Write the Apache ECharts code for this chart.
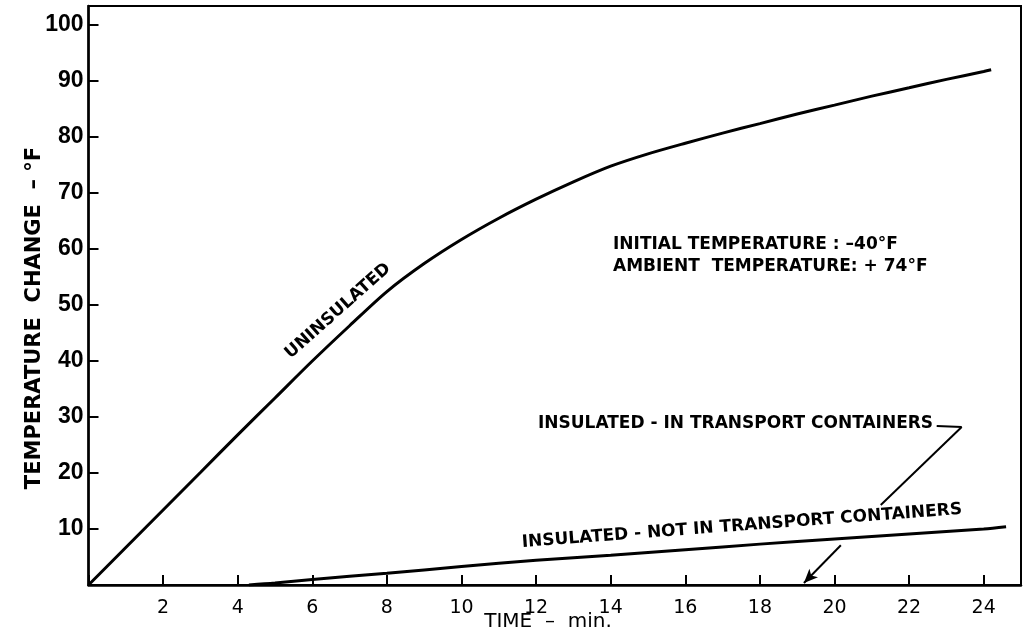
<!DOCTYPE html>
<html>
<head>
<meta charset="utf-8">
<script src="https://cdn.jsdelivr.net/npm/echarts@6/dist/echarts.min.js"></script>
<style>
html,body{margin:0;padding:0;background:#fff;}
#chart{width:1026px;height:642px;}
</style>
</head>
<body>
<div id="chart"></div>
<script>
// ---- data (time in minutes, temperature change in °F) ----
var uninsulatedTime = [0, 1, 2, 3, 4, 5, 6, 7, 8, 9, 10, 11, 12, 13, 14, 15, 16, 17, 18, 19, 20, 21, 22, 23, 24, 24.2];
var uninsulatedTemp = [0, 6.7, 13.4, 20.1, 26.8, 33.4, 40.0, 46.3, 52.4, 57.4, 61.7, 65.5, 68.9, 72.0, 74.8, 77.0, 78.9, 80.7, 82.4, 84.1, 85.7, 87.3, 88.8, 90.3, 91.7, 92.0];
var insulatedNotTime = [4.3, 5, 6, 8, 10, 12, 14, 16, 18, 20, 22, 24, 24.6];
var insulatedNotTemp = [0, 0.35, 1.0, 2.1, 3.3, 4.4, 5.3, 6.3, 7.3, 8.2, 9.1, 10.0, 10.4];
var xTicks = [2, 4, 6, 8, 10, 12, 14, 16, 18, 20, 22, 24];
var yTicks = [10, 20, 30, 40, 50, 60, 70, 80, 90, 100];
// leader line for "INSULATED - IN TRANSPORT CONTAINERS" (data units)
var leaderHook = [[22.74, 28.4], [23.41, 28.2]];
var leaderUpper = [[23.41, 28.2], [21.24, 14.3]];
var leaderLower = [[20.17, 7.1], [19.18, 0.36]];

function zip(a, b) { return a.map(function (v, i) { return [v, b[i]]; }); }

var chart = echarts.init(document.getElementById('chart'));
var textBold = { fontFamily: 'DejaVu Sans', fontWeight: 'bold', fill: '#000' };

var option = {
  backgroundColor: '#fff',
  animation: false,
  grid: { left: 88.5, right: 5, top: 6, bottom: 57, show: true, borderColor: '#000', borderWidth: 2 },
  xAxis: {
    type: 'value', min: 0, max: 25, interval: 2,
    axisLine: { show: true, lineStyle: { color: '#000', width: 2.5 } },
    axisTick: { show: true, inside: true, length: 10, lineStyle: { color: '#000', width: 2 } },
    splitLine: { show: false },
    axisLabel: {
      margin: 14, color: '#000', fontFamily: 'DejaVu Sans', fontSize: 19,
      formatter: function (v) { return xTicks.indexOf(v) >= 0 ? String(v) : ''; }
    }
  },
  yAxis: {
    type: 'value', min: 0, max: 103.4, interval: 10,
    axisLine: { show: true, lineStyle: { color: '#000', width: 2.5 } },
    axisTick: { show: true, inside: true, length: 10, lineStyle: { color: '#000', width: 2 } },
    splitLine: { show: false },
    axisLabel: {
      margin: 5, color: '#000', fontFamily: 'Liberation Sans', fontWeight: 'bold', fontSize: 23,
      formatter: function (v) { return yTicks.indexOf(v) >= 0 ? String(v) : ''; }
    }
  },
  series: [
    {
      name: 'Uninsulated', type: 'line', data: zip(uninsulatedTime, uninsulatedTemp),
      showSymbol: false, smooth: 0.3, lineStyle: { color: '#000', width: 3 }
    },
    {
      name: 'Insulated - not in transport containers', type: 'line', data: zip(insulatedNotTime, insulatedNotTemp),
      showSymbol: false, smooth: 0.3, lineStyle: { color: '#000', width: 3 },
      markLine: {
        silent: true, symbol: ['none', 'none'], label: { show: false },
        lineStyle: { color: '#000', width: 2, type: 'solid' },
        data: [
          [{ coord: leaderHook[0] }, { coord: leaderHook[1] }],
          [{ coord: leaderUpper[0] }, { coord: leaderUpper[1] }],
          [{ coord: leaderLower[0] }, { coord: leaderLower[1], symbol: 'arrow', symbolSize: [9, 14] }]
        ]
      }
    }
  ],
  graphic: [
    { type: 'text', x: 35, y: 318, rotation: Math.PI / 2,
      style: Object.assign({ text: 'TEMPERATURE  CHANGE  – °F', fontSize: 21, textAlign: 'center', textVerticalAlign: 'middle' }, textBold) },
    { type: 'text', x: 548, y: 622,
      style: { text: 'TIME  –  min.', fontFamily: 'DejaVu Sans', fontSize: 20, fill: '#000', textAlign: 'center', textVerticalAlign: 'middle' } },
    { type: 'text', x: 613, y: 245,
      style: Object.assign({ text: 'INITIAL TEMPERATURE : –40°F', fontSize: 17, textAlign: 'left', textVerticalAlign: 'middle' }, textBold) },
    { type: 'text', x: 613, y: 267,
      style: Object.assign({ text: 'AMBIENT  TEMPERATURE: + 74°F', fontSize: 17, textAlign: 'left', textVerticalAlign: 'middle' }, textBold) },
    { type: 'text', x: 538, y: 424,
      style: Object.assign({ text: 'INSULATED - IN TRANSPORT CONTAINERS', fontSize: 17, textAlign: 'left', textVerticalAlign: 'middle' }, textBold) },
    { type: 'text', x: 742, y: 526, rotation: 0.075,
      style: Object.assign({ text: 'INSULATED - NOT IN TRANSPORT CONTAINERS', fontSize: 17, textAlign: 'center', textVerticalAlign: 'middle' }, textBold) },
    { type: 'text', x: 338, y: 311, rotation: 0.726,
      style: Object.assign({ text: 'UNINSULATED', fontSize: 17, textAlign: 'center', textVerticalAlign: 'middle' }, textBold) }
  ]
};
chart.setOption(option);
</script>
</body>
</html>
